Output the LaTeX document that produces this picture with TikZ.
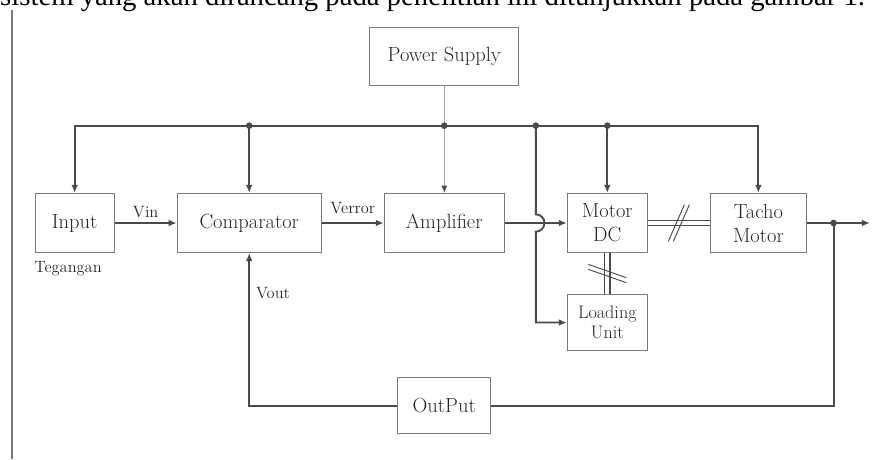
\documentclass[tikz,border=0pt]{standalone}
\usepackage{fontspec}
\newfontfamily\capfont{Liberation Serif}
\usetikzlibrary{arrows.meta,positioning,calc}
\definecolor{wiregray}{HTML}{4A4A4A}
\definecolor{boxgray}{HTML}{7A7A7A}
\definecolor{inkgray}{HTML}{262626}
\definecolor{supplygray}{HTML}{A8A8A8}

\begin{document}
\begin{tikzpicture}[
  node distance=1.86cm,
  box/.style={draw=boxgray, line width=0.9pt, align=center, minimum height=1.77cm, text=inkgray, font=\fontsize{17.5}{20.5}\selectfont},
  small/.style={draw=boxgray, line width=0.9pt, align=center, minimum height=1.68cm, text=inkgray, font=\fontsize{15.5}{17}\selectfont},
  lbl/.style={text=inkgray, font=\fontsize{14}{16}\selectfont, inner sep=1pt},
  wire/.style={draw=wiregray, line width=1.6pt},
  arr/.style={wire, -{Latex[length=0.24cm, width=0.2cm]}},
  dot/.style={circle, fill=wiregray, inner sep=0pt, minimum size=0.2cm},
  shaft/.style={draw=wiregray, line width=1pt, double=white, double distance=0.12cm},
  tick/.style={draw=wiregray, line width=0.8pt}
]
\useasboundingbox (0,0) rectangle (26.25,13.77);

% page edge and the caption line cut off above the figure
\draw[boxgray, line width=1.4pt] (0.36,0) -- (0.36,13.47);
\node[anchor=base west, inner sep=0pt, text=black, font=\capfont\fontsize{24.5}{28}\selectfont] (caption) at (0,13.59) {sistem yang akan dirancang pada penelitian ini ditunjukkan pada gambar 1.};

% blocks
\node[box, minimum width=2.37cm] (input) at (2.24,7.08) {Input};
\node[box, minimum width=4.32cm, right=of input] (comp) {Comparator};
\node[box, minimum width=3.6cm, right=of comp] (amp) {Amplifier};
\node[box, minimum width=2.4cm, right=of amp] (motor) {Motor\\DC};
\node[box, minimum width=2.88cm, right=of motor] (tacho) {Tacho\\Motor};
\node[box, minimum width=4.47cm, minimum height=1.74cm, above=3.21cm of amp] (power) {Power Supply};
\node[small, minimum width=2.4cm, below=1.23cm of motor] (load) {Loading\\Unit};
\node[box, minimum width=2.79cm, minimum height=1.68cm, below=3.73cm of amp] (out) {OutPut};
\node[lbl, below=0.22cm of input, xshift=-0.2cm] (teg) {Tegangan};

% supply bus
\coordinate (bus) at (0,10.0);
\coordinate (tap) at ($(amp.east)!0.5!(motor.west)$);
\draw[arr] (comp |- bus) -| (input.north);
\draw[arr] (comp |- bus) -| (tacho.north);
\draw[arr] (comp |- bus) -- (comp);
\draw[arr] (motor |- bus) -- (motor);
\draw[draw=supplygray, line width=0.8pt, -{Latex[length=0.22cm, width=0.18cm, color=wiregray]}] (power) -- (amp);
\draw[arr] (tap |- bus) -- ($(tap)+(0,0.26)$) arc[start angle=90, end angle=-90, radius=0.26] |- (load);
\foreach \n in {comp,amp,tap,motor}
  \node[dot] (dot-\n) at (\n |- bus) {};

% forward path
\draw[arr] (input) -- node[lbl, above=3pt] (vin) {Vin} (comp);
\draw[arr] (comp) -- node[lbl, above=6pt] (verr) {Verror} (amp);
\draw[arr] (amp) -- (motor);
\draw[shaft] (motor) -- (tacho);
\draw[shaft] (motor) -- (load);
\coordinate (yout) at ($(tacho.east)+(1.89,0)$);
\coordinate (fb) at ($(tacho.east)+(0.8,0)$);
\draw[arr] (tacho) -- (yout);
\node[dot] (dot-fb) at (fb) {};

% mechanical coupling marks
\coordinate (hm) at ($(motor.east)!0.5!(tacho.west)$);
\coordinate (vm) at ($(motor.south)!0.5!(load.north)$);
\foreach \d in {-0.075,0.075} {
  \draw[tick] ($(hm)+(\d+0.24,0.55)$) -- ($(hm)+(\d-0.24,-0.55)$);
  \draw[tick] ($(vm)+(-0.57,0.2+\d)$) -- ($(vm)+(0.57,-0.2+\d)$);
}

% feedback
\draw[wire] (fb) |- (out);
\draw[arr] (out) -| node[lbl, pos=0.87, right=4pt] (vout) {Vout} (comp);
\end{tikzpicture}
\end{document}
